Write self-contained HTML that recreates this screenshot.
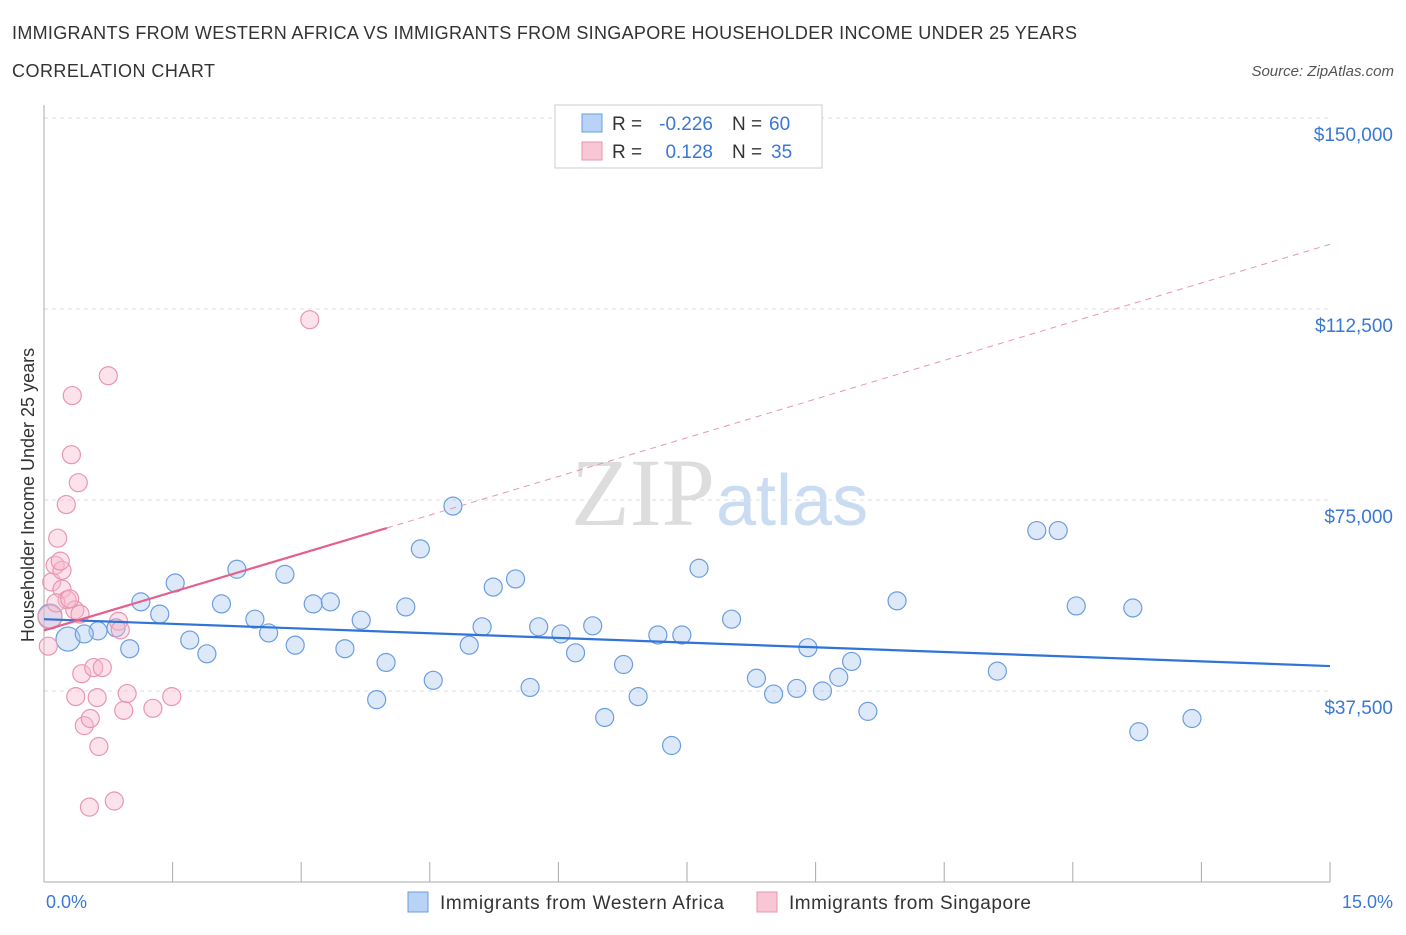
<!DOCTYPE html>
<html><head><meta charset="utf-8"><style>
body{margin:0;background:#fff;font-family:"Liberation Sans",sans-serif}
</style></head><body>
<svg id="chart" width="1406" height="930" xmlns="http://www.w3.org/2000/svg">
<text x="12" y="39" font-size="18" fill="#333" textLength="1065">IMMIGRANTS FROM WESTERN AFRICA VS IMMIGRANTS FROM SINGAPORE HOUSEHOLDER INCOME UNDER 25 YEARS</text>
<text x="12" y="77" font-size="18" fill="#333" textLength="203">CORRELATION CHART</text>
<text x="1394" y="76" font-size="15" fill="#555" font-style="italic" text-anchor="end">Source: ZipAtlas.com</text>
<text x="715" y="525" font-size="96" fill="#ddd" font-family="Liberation Serif" text-anchor="end">ZIP</text>
<text x="716" y="525" font-size="72" fill="#c9dcf2">atlas</text>
<g id="grid"></g>
<g id="axes"></g>
<g id="marks"></g>
<text transform="translate(34,495) rotate(-90)" font-size="18" fill="#333" text-anchor="middle">Householder Income Under 25 years</text>
<text x="46" y="908" font-size="18" fill="#3a78d4">0.0%</text>
<text x="1393" y="908" font-size="18" fill="#3a78d4" text-anchor="end">15.0%</text>
<g>
<rect x="555" y="105" width="267" height="63" fill="#fff" stroke="#ccc"/>
<rect x="582" y="114" width="20" height="18" fill="#b8d3f5" stroke="#6b9ee0"/>
<rect x="582" y="142" width="20" height="18" fill="#f9c6d5" stroke="#e896b0"/>
<text x="612" y="130" font-size="19" fill="#333">R =</text>
<text x="713" y="130" font-size="19" fill="#3a78d4" text-anchor="end">-0.226</text>
<text x="732" y="130" font-size="19" fill="#333">N =</text>
<text x="769" y="130" font-size="19" fill="#3a78d4">60</text>
<text x="612" y="158" font-size="19" fill="#333">R =</text>
<text x="713" y="158" font-size="19" fill="#3a78d4" text-anchor="end">0.128</text>
<text x="732" y="158" font-size="19" fill="#333">N =</text>
<text x="771" y="158" font-size="19" fill="#3a78d4">35</text>
</g>
<g>
<rect x="408" y="892" width="20" height="20" fill="#b8d3f5" stroke="#6b9ee0"/>
<text x="440" y="909" font-size="19" fill="#333" textLength="284">Immigrants from Western Africa</text>
<rect x="757" y="892" width="20" height="20" fill="#f9c6d5" stroke="#e896b0"/>
<text x="789" y="909" font-size="19" fill="#333" textLength="242">Immigrants from Singapore</text>
</g>
</svg>
<script>
const yTicks=[37500,75000,112500,150000];
const yTickLabels=["$37,500","$75,000","$112,500","$150,000"];
const blueX=[0.07,0.28,0.63,0.47,0.84,1.00,1.13,1.35,1.53,1.70,1.90,2.07,2.25,2.46,2.62,2.81,2.93,3.14,3.34,3.51,3.70,3.88,3.99,4.22,4.39,4.54,4.77,4.96,5.11,5.24,5.50,5.67,5.77,6.03,6.20,6.40,6.54,6.76,6.93,7.16,7.32,7.44,7.64,8.02,8.31,8.51,8.78,8.91,9.08,9.27,9.42,9.61,9.95,11.12,11.58,11.83,12.04,12.70,12.77,13.39];
const blueY=[52200,47700,49300,48700,49900,45800,55000,52600,58700,47500,44800,54600,61400,51600,48900,60400,46500,54600,55000,45800,51400,35800,43100,54000,65400,39600,73800,46500,50100,57900,59500,38200,50100,48700,45000,50300,32300,42700,36400,48500,26800,48500,61600,51600,40000,36900,38000,46000,37500,40200,43300,33500,55200,41400,69000,69000,54200,53800,29500,32100];
const blueR=[12,12,9,9,9,9,9,9,9,9,9,9,9,9,9,9,9,9,9,9,9,9,9,9,9,9,9,9,9,9,9,9,9,9,9,9,9,9,9,9,9,9,9,9,9,9,9,9,9,9,9,9,9,9,9,9,9,9,9,9];
const pinkX=[0.07,0.05,0.09,0.13,0.16,0.21,0.21,0.26,0.27,0.33,0.32,0.36,0.40,0.37,0.44,0.47,0.54,0.53,0.62,0.58,0.64,0.68,0.75,0.82,0.87,0.89,0.93,0.97,1.27,1.49,3.10,0.14,0.30,0.42,0.19];
const pinkY=[52000,46300,58900,62200,67500,61200,57500,74100,55400,95500,83900,53400,78400,36400,40900,30700,32100,14700,36200,42100,26600,42100,99400,15900,51200,49500,33700,37000,34100,36400,110400,54800,55600,52600,63000];
const bx0=0,bx1=15,by0=51600,by1=42400;
const px0=0,px1=4,py0=49400,py1=69500,pyEnd=125200;
const X=v=>44+v/15*1286;
const Y=v=>691-(v-37500)/37500*191;
const NS="http://www.w3.org/2000/svg";
function mk(p,t,a){const e=document.createElementNS(NS,t);for(const k in a)e.setAttribute(k,a[k]);p.appendChild(e);return e;}
const grid=document.getElementById('grid'),axes=document.getElementById('axes'),marks=document.getElementById('marks');
yTicks.forEach((v,i)=>{
 const l=mk(grid,'line',{x1:44,x2:1330,y1:Y(v),y2:Y(v),stroke:'#ddd','stroke-dasharray':'4,4'});
 
 
 const t=mk(axes,'text',{x:1393,y:Y(v)+23,'font-size':19,fill:'#3a78d4','text-anchor':'end'});
 t.textContent=yTickLabels[i];
 
 
});
const ya=mk(axes,'line',{x1:44,x2:44,y1:105,y2:882,stroke:'#aaa'});


const xa=mk(axes,'line',{x1:44,x2:1330,y1:882,y2:882,stroke:'#aaa'});


for(let i=0;i<=10;i++){const tk=mk(axes,'line',{x1:X(i*1.5),x2:X(i*1.5),y1:862,y2:882,stroke:'#aaa'});
 
 }
blueX.forEach((x,i)=>{const c=mk(marks,'circle',{cx:X(x),cy:Y(blueY[i]),r:blueR[i],fill:'rgba(170,200,240,0.4)',stroke:'#6b9ee0','stroke-width':1.2});
 
 });
pinkX.forEach((x,i)=>{const c=mk(marks,'circle',{cx:X(x),cy:Y(pinkY[i]),r:i==0?12:9,fill:'rgba(248,185,205,0.4)',stroke:'#e896b0','stroke-width':1.2});
 
 });
const bl=mk(marks,'line',{x1:X(bx0),y1:Y(by0),x2:X(bx1),y2:Y(by1),stroke:'#2f74d6','stroke-width':2.2});


const pd=mk(marks,'line',{x1:X(px1),y1:Y(py1),x2:X(15),y2:Y(pyEnd),stroke:'#e896b0','stroke-width':1,'stroke-dasharray':'6,5'});


const pl=mk(marks,'line',{x1:X(px0),y1:Y(py0),x2:X(px1),y2:Y(py1),stroke:'#e5608c','stroke-width':2.2});


</script>
</body></html>
